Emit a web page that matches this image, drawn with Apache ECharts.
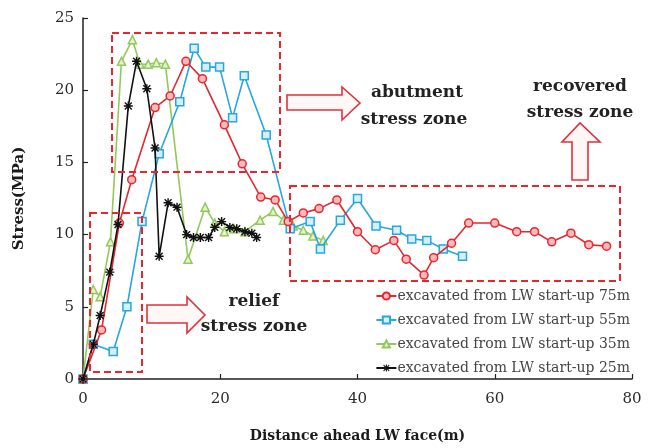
<!DOCTYPE html>
<html>
<head>
<meta charset="utf-8">
<script src="https://cdn.jsdelivr.net/npm/echarts@6/dist/echarts.min.js"></script>
<style>html,body{margin:0;padding:0;background:#fff}#c{width:655px;height:448px}</style>
</head>
<body>
<div id="c"></div>
<script>
// ---- data ----
const xTickValues = [0, 20, 40, 60, 80];
const yTickValues = [0, 5, 10, 15, 20, 25];
const seriesNames = [
  'excavated from LW start-up 75m',
  'excavated from LW start-up 55m',
  'excavated from LW start-up 35m',
  'excavated from LW start-up 25m'
];
const red75X = [0, 2.7, 5.3, 7.1, 10.5, 12.7, 15.0, 17.4, 20.6, 23.2, 25.9, 28.0, 29.9, 32.1, 34.4, 37.0, 40.0, 42.6, 45.3, 47.1, 49.7, 51.1, 53.7, 56.2, 60.0, 63.2, 65.8, 68.3, 71.1, 73.7, 76.3];
const red75Y = [0, 3.4, 10.8, 13.8, 18.8, 19.6, 22.0, 20.8, 17.6, 14.9, 12.6, 12.4, 10.9, 11.5, 11.8, 12.4, 10.2, 8.95, 9.6, 8.3, 7.2, 8.4, 9.4, 10.8, 10.8, 10.2, 10.2, 9.5, 10.1, 9.3, 9.2];
const blue55X = [0, 1.5, 4.4, 6.4, 8.6, 11.1, 14.1, 16.2, 17.9, 19.9, 21.8, 23.5, 26.7, 30.2, 33.1, 34.6, 37.5, 40.0, 42.7, 45.7, 47.9, 50.1, 52.5, 55.3];
const blue55Y = [0, 2.4, 1.9, 5.0, 10.9, 15.6, 19.2, 22.9, 21.6, 21.6, 18.1, 21.0, 16.9, 10.4, 10.9, 9.0, 11.0, 12.5, 10.6, 10.3, 9.7, 9.6, 9.0, 8.5];
const green35X = [0, 1.5, 2.5, 4.0, 5.6, 7.2, 8.3, 9.5, 10.7, 12.0, 15.3, 17.8, 19.2, 20.6, 22.0, 23.6, 25.8, 27.7, 29.2, 30.6, 32.1, 33.5, 35.0];
const green35Y = [0, 6.2, 5.7, 9.5, 22.0, 23.5, 21.8, 21.8, 21.9, 21.8, 8.3, 11.9, 10.8, 10.2, 10.4, 10.2, 11.0, 11.6, 11.0, 10.6, 10.3, 9.9, 9.6];
const black25X = [0, 1.5, 2.5, 3.9, 5.1, 6.6, 7.8, 9.3, 10.5, 11.1, 12.4, 13.7, 15.1, 16.1, 17.1, 18.3, 19.2, 20.2, 21.4, 22.4, 23.6, 24.6, 25.3];
const black25Y = [0, 2.4, 4.4, 7.4, 10.7, 18.9, 22.0, 20.1, 16.0, 8.5, 12.2, 11.9, 10.0, 9.8, 9.8, 9.8, 10.5, 10.9, 10.5, 10.4, 10.2, 10.1, 9.8];

// ---- build ----
function pairs(xs, ys) { return xs.map((x, i) => [x, ys[i]]); }
const RED = '#e8262e', BLUE = '#27a6df', GREEN = '#94c85a', BLACK = '#111';
const ASTERISK = 'path://M0,4.2H10V5.8H0Z M4.2,0H5.8V10H4.2Z M0.6,1.7L1.7,0.6L9.4,8.3L8.3,9.4Z M8.3,0.6L9.4,1.7L1.7,9.4L0.6,8.3Z';

function mkSeries(name, data, color, fill, symbol, size, z, bw) {
  return {
    name: name, type: 'line', data: data, symbol: symbol, symbolSize: size,
    z: z, showSymbol: true, animation: false,
    lineStyle: { color: color, width: 1.6 },
    itemStyle: { color: fill, borderColor: color, borderWidth: bw }
  };
}

const chart = echarts.init(document.getElementById('c'), null, { renderer: 'canvas' });
const serif = 'DejaVu Serif';
const arrowStyle = { fill: '#fff6f6', stroke: '#e0323a', lineWidth: 1.6 };
const boxStyle = { fill: 'none', stroke: RED, lineWidth: 2, lineDash: [7, 4] };
const annText = { font: 'bold 17px "DejaVu Serif"', fill: '#222', textAlign: 'center', textVerticalAlign: 'middle' };

chart.setOption({
  backgroundColor: '#fff',
  animation: false,
  grid: { left: 83, right: 23, top: 18, bottom: 67, containLabel: false },
  xAxis: {
    type: 'value', min: xTickValues[0], max: xTickValues[xTickValues.length - 1],
    interval: xTickValues[1] - xTickValues[0],
    name: 'Distance ahead LW face(m)', nameLocation: 'middle', nameGap: 50,
    nameTextStyle: { fontFamily: serif, fontWeight: 'bold', fontSize: 14, color: '#1a1a1a' },
    axisLine: { lineStyle: { color: '#222', width: 1.5 } },
    axisTick: { inside: true, length: 5, lineStyle: { color: '#222', width: 1.2 } },
    axisLabel: { fontFamily: serif, fontSize: 15, color: '#2a2a2a', margin: 13 },
    splitLine: { show: false }
  },
  yAxis: {
    type: 'value', min: yTickValues[0], max: yTickValues[yTickValues.length - 1],
    interval: yTickValues[1] - yTickValues[0],
    name: 'Stress(MPa)', nameLocation: 'middle', nameGap: 56,
    nameTextStyle: { fontFamily: serif, fontWeight: 'bold', fontSize: 15, color: '#1a1a1a' },
    axisLine: { show: true, lineStyle: { color: '#222', width: 1.5 } },
    axisTick: { show: true, inside: true, length: 5, lineStyle: { color: '#222', width: 1.2 } },
    axisLabel: { fontFamily: serif, fontSize: 15, color: '#2a2a2a', margin: 9 },
    splitLine: { show: false }
  },
  legend: {
    orient: 'vertical', right: 20, top: 284, itemGap: 10,
    itemWidth: 20, itemHeight: 9,
    textStyle: { fontFamily: serif, fontSize: 14, color: '#444', padding: [0, 0, 0, -4] },
    data: seriesNames
  },
  series: [
    mkSeries(seriesNames[0], pairs(red75X, red75Y), RED, '#f7b9bb', 'circle', 8, 5, 1.5),
    mkSeries(seriesNames[1], pairs(blue55X, blue55Y), BLUE, '#d6f0fb', 'rect', 8, 4, 1.5),
    mkSeries(seriesNames[2], pairs(green35X, green35Y), GREEN, '#e3f3d0', 'triangle', 8, 3, 1.5),
    mkSeries(seriesNames[3], pairs(black25X, black25Y), BLACK, BLACK, ASTERISK, 9, 6, 0)
  ],
  graphic: [
    { type: 'rect', shape: { x: 112, y: 33, width: 168, height: 139 }, style: boxStyle, z: 10, silent: true },
    { type: 'rect', shape: { x: 90, y: 213, width: 52, height: 159 }, style: boxStyle, z: 10, silent: true },
    { type: 'rect', shape: { x: 290, y: 186, width: 330, height: 95 }, style: boxStyle, z: 10, silent: true },
    { type: 'polygon', shape: { points: [[287, 95], [342, 95], [342, 87], [360, 103], [342, 120], [342, 110], [287, 110]] }, style: arrowStyle, z: 10 },
    { type: 'polygon', shape: { points: [[147, 305], [187, 305], [187, 297], [205, 315], [187, 333], [187, 323], [147, 323]] }, style: arrowStyle, z: 10 },
    { type: 'polygon', shape: { points: [[572, 180], [572, 142], [562, 142], [580, 123], [600, 142], [588, 142], [588, 180]] }, style: arrowStyle, z: 10 },
    { type: 'text', x: 417, y: 93, style: Object.assign({ text: 'abutment' }, annText), z: 11 },
    { type: 'text', x: 414, y: 120, style: Object.assign({ text: 'stress zone' }, annText), z: 11 },
    { type: 'text', x: 580, y: 87, style: Object.assign({ text: 'recovered' }, annText), z: 11 },
    { type: 'text', x: 580, y: 113, style: Object.assign({ text: 'stress zone' }, annText), z: 11 },
    { type: 'text', x: 254, y: 302, style: Object.assign({ text: 'relief' }, annText), z: 11 },
    { type: 'text', x: 254, y: 327, style: Object.assign({ text: 'stress zone' }, annText), z: 11 }
  ]
});
</script>
</body>
</html>
